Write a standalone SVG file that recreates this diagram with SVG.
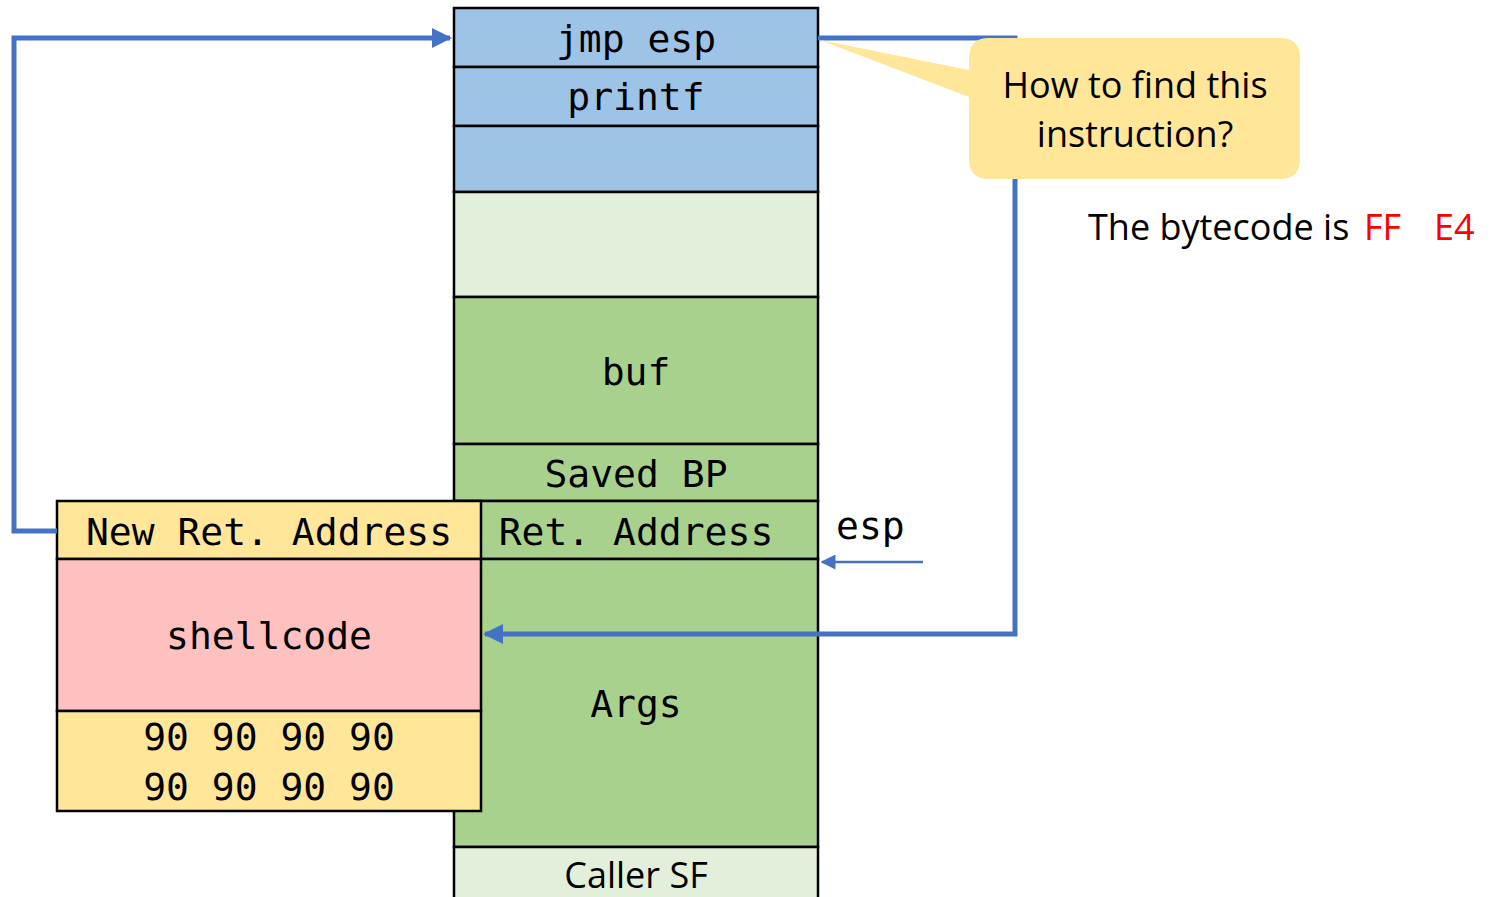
<svg xmlns="http://www.w3.org/2000/svg" width="1490" height="897" viewBox="0 0 1490 897">
<defs>
<style>
.cell{stroke:#000;stroke-width:2.5}
.blue{fill:#9DC3E6}.lg{fill:#E2EFDA}.g{fill:#A9D18E}.y{fill:#FFE699}.p{fill:#FFC0C0}
.m{font-family:"DejaVu Sans Mono",monospace;font-size:38px;fill:#000;text-anchor:middle}
.s{font-family:"Open Sans","Noto Sans",sans-serif;font-size:36px;fill:#000}
.conn{fill:none;stroke:#4472C4;stroke-width:5}
</style>
<marker id="ah" viewBox="0 0 10 10" refX="9" refY="5" markerWidth="4" markerHeight="4" orient="auto" markerUnits="strokeWidth"><path d="M0,0L10,5L0,10z" fill="#4472C4"/></marker>
<marker id="ah2" viewBox="0 0 10 10" refX="9" refY="5" markerWidth="6" markerHeight="6" orient="auto" markerUnits="strokeWidth"><path d="M0,0L10,5L0,10z" fill="#4472C4"/></marker>
</defs>
<g id="stack">
<g id="jmp"><rect class="cell blue" x="454" y="8" width="364" height="59"/><text class="m" x="636" y="52">jmp esp</text></g>
<g id="printf"><rect class="cell blue" x="454" y="67" width="364" height="59"/><text class="m" x="636" y="110">printf</text></g>
<g id="blank-blue"><rect class="cell blue" x="454" y="126" width="364" height="66"/></g>
<g id="blank-green"><rect class="cell lg" x="454" y="192" width="364" height="105"/></g>
<g id="buf"><rect class="cell g" x="454" y="297" width="364" height="147"/><text class="m" x="636" y="385">buf</text></g>
<g id="savedbp"><rect class="cell g" x="454" y="444" width="364" height="57"/><text class="m" x="636" y="487">Saved BP</text></g>
<g id="retaddr"><rect class="cell g" x="454" y="501" width="364" height="58"/><text class="m" x="636" y="545">Ret. Address</text></g>
<g id="args"><rect class="cell g" x="454" y="559" width="364" height="288"/><text class="m" x="636" y="717">Args</text></g>
<g id="callersf"><rect class="cell lg" x="454" y="847" width="364" height="60"/><text class="s" x="636" y="888" text-anchor="middle">Caller SF</text></g>
</g>
<g id="payload">
<g id="newret"><rect class="cell y" x="57" y="501" width="424" height="58"/><text class="m" x="269" y="545">New Ret. Address</text></g>
<g id="shellcode"><rect class="cell p" x="57" y="559" width="424" height="152"/><text class="m" x="269" y="649">shellcode</text></g>
<g id="nops"><rect class="cell y" x="57" y="711" width="424" height="100"/><text class="m" x="269" y="750">90 90 90 90</text><text class="m" x="269" y="800">90 90 90 90</text></g>
</g>
<g id="connectors">
<path class="conn" d="M57,531H14V38H450" marker-end="url(#ah)"/>
<path class="conn" d="M818,38H1015V634H485" marker-end="url(#ah)"/>
<path d="M923,562H822" fill="none" stroke="#4472C4" stroke-width="2.5" marker-end="url(#ah2)"/>
</g>
<g id="callout">
<path d="M820,40L969,70V58Q969,38 989,38H1280Q1300,38 1300,58V159Q1300,179 1280,179H989Q969,179 969,159V97Z" fill="#FFE699"/>
<text class="s" x="1135" y="98" text-anchor="middle">How to find this</text>
<text class="s" x="1135" y="147" text-anchor="middle">instruction?</text>
</g>
<g id="labels">
<text x="836" y="539" style="font-family:'DejaVu Sans Mono',monospace;font-size:38px">esp</text>
<text class="s" x="1088" y="240">The bytecode is <tspan x="1364" fill="#FF0000">FF</tspan><tspan x="1434" fill="#FF0000">E4</tspan></text>
</g>
</svg>
